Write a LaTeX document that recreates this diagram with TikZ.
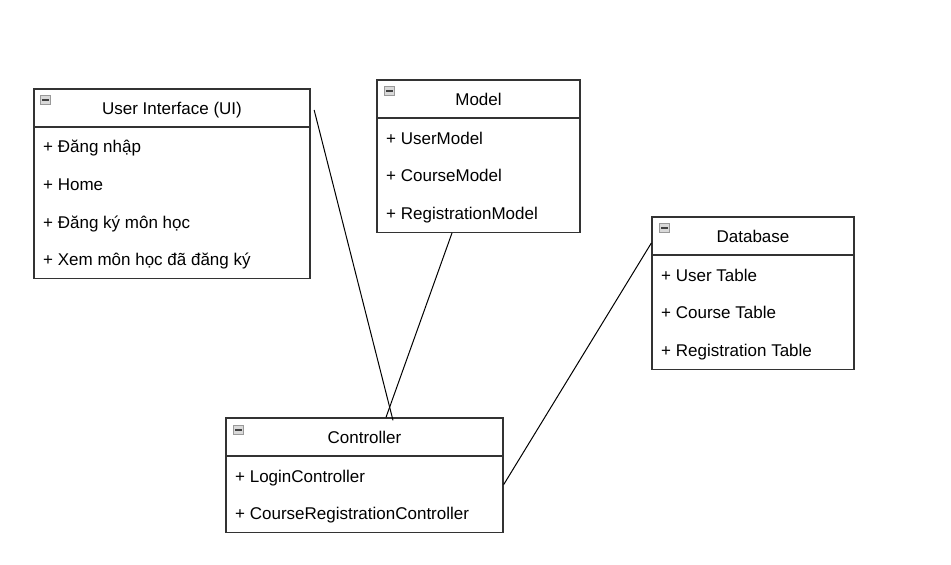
\documentclass[tikz,border=0pt]{standalone}
\usepackage{fontspec}
\setmainfont{Liberation Sans}
\usetikzlibrary{positioning}

\begin{document}
\begin{tikzpicture}[x=1pt,y=-1pt,
  hdr/.style={draw=black!80, line width=1.3pt, fill=white, minimum height=38, inner sep=0, text height=12.3pt, text depth=0pt, font=\fontsize{17}{19}\selectfont},
  body/.style={draw=black!80, line width=1.3pt, inner sep=0},
  item/.style={anchor=west, inner sep=0, text height=12.3pt, text depth=0pt, font=\fontsize{17}{19}\selectfont},
  minus/.style={draw=gray!80, fill=gray!30, line width=0.6pt, minimum width=10, minimum height=9, inner sep=0,
    path picture={\draw[line width=2pt, black!75] ([xshift=1.5]path picture bounding box.west) -- ([xshift=-1.5]path picture bounding box.east);}},
  link/.style={line width=1pt, black}]
\useasboundingbox (0,0) rectangle (951,565);
% user interface
\node[hdr, minimum width=276] (ui) at (172,108) {User Interface (UI)};
\node[body, minimum width=276, minimum height=151.3, below=-1.3pt of ui] (uiBody) {};
\node[minus] (uiIcon) at (45.5,100) {};
\node[item] (ui1) at (43,146) {+ Đăng nhập};
\node[item] (ui2) at (43,184) {+ Home};
\node[item] (ui3) at (43,222) {+ Đăng ký môn học};
\node[item] (ui4) at (43,259) {+ Xem môn học đã đăng ký};
% model
\node[hdr, minimum width=203] (model) at (478.5,99) {Model};
\node[body, minimum width=203, minimum height=114.3, below=-1.3pt of model] (modelBody) {};
\node[minus] (modelIcon) at (389.5,91) {};
\node[item] (model1) at (386,138) {+ UserModel};
\node[item] (model2) at (386,175) {+ CourseModel};
\node[item] (model3) at (386,213) {+ RegistrationModel};
% database
\node[hdr, minimum width=202] (db) at (753,236) {Database};
\node[body, minimum width=202, minimum height=114.3, below=-1.3pt of db] (dbBody) {};
\node[minus] (dbIcon) at (664.5,228) {};
\node[item] (db1) at (661,275) {+ User Table};
\node[item] (db2) at (661,312) {+ Course Table};
\node[item] (db3) at (661,350) {+ Registration Table};
% controller
\node[hdr, minimum width=277] (ctrl) at (364.5,437) {Controller};
\node[body, minimum width=277, minimum height=76.3, below=-1.3pt of ctrl] (ctrlBody) {};
\node[minus] (ctrlIcon) at (238.5,430) {};
\node[item] (ctrl1) at (235,476) {+ LoginController};
\node[item] (ctrl2) at (235,513) {+ CourseRegistrationController};
% links
\draw[link] ([xshift=3.5,yshift=-2]ui.east) -- ([xshift=28.5,yshift=-3]ctrl.north);
\draw[link] ([xshift=-26.5]modelBody.south) -- ([xshift=21.5]ctrl.north);
\draw[link] ([yshift=-7]db.west) -- ([yshift=9.5]ctrlBody.east);
\end{tikzpicture}
\end{document}
